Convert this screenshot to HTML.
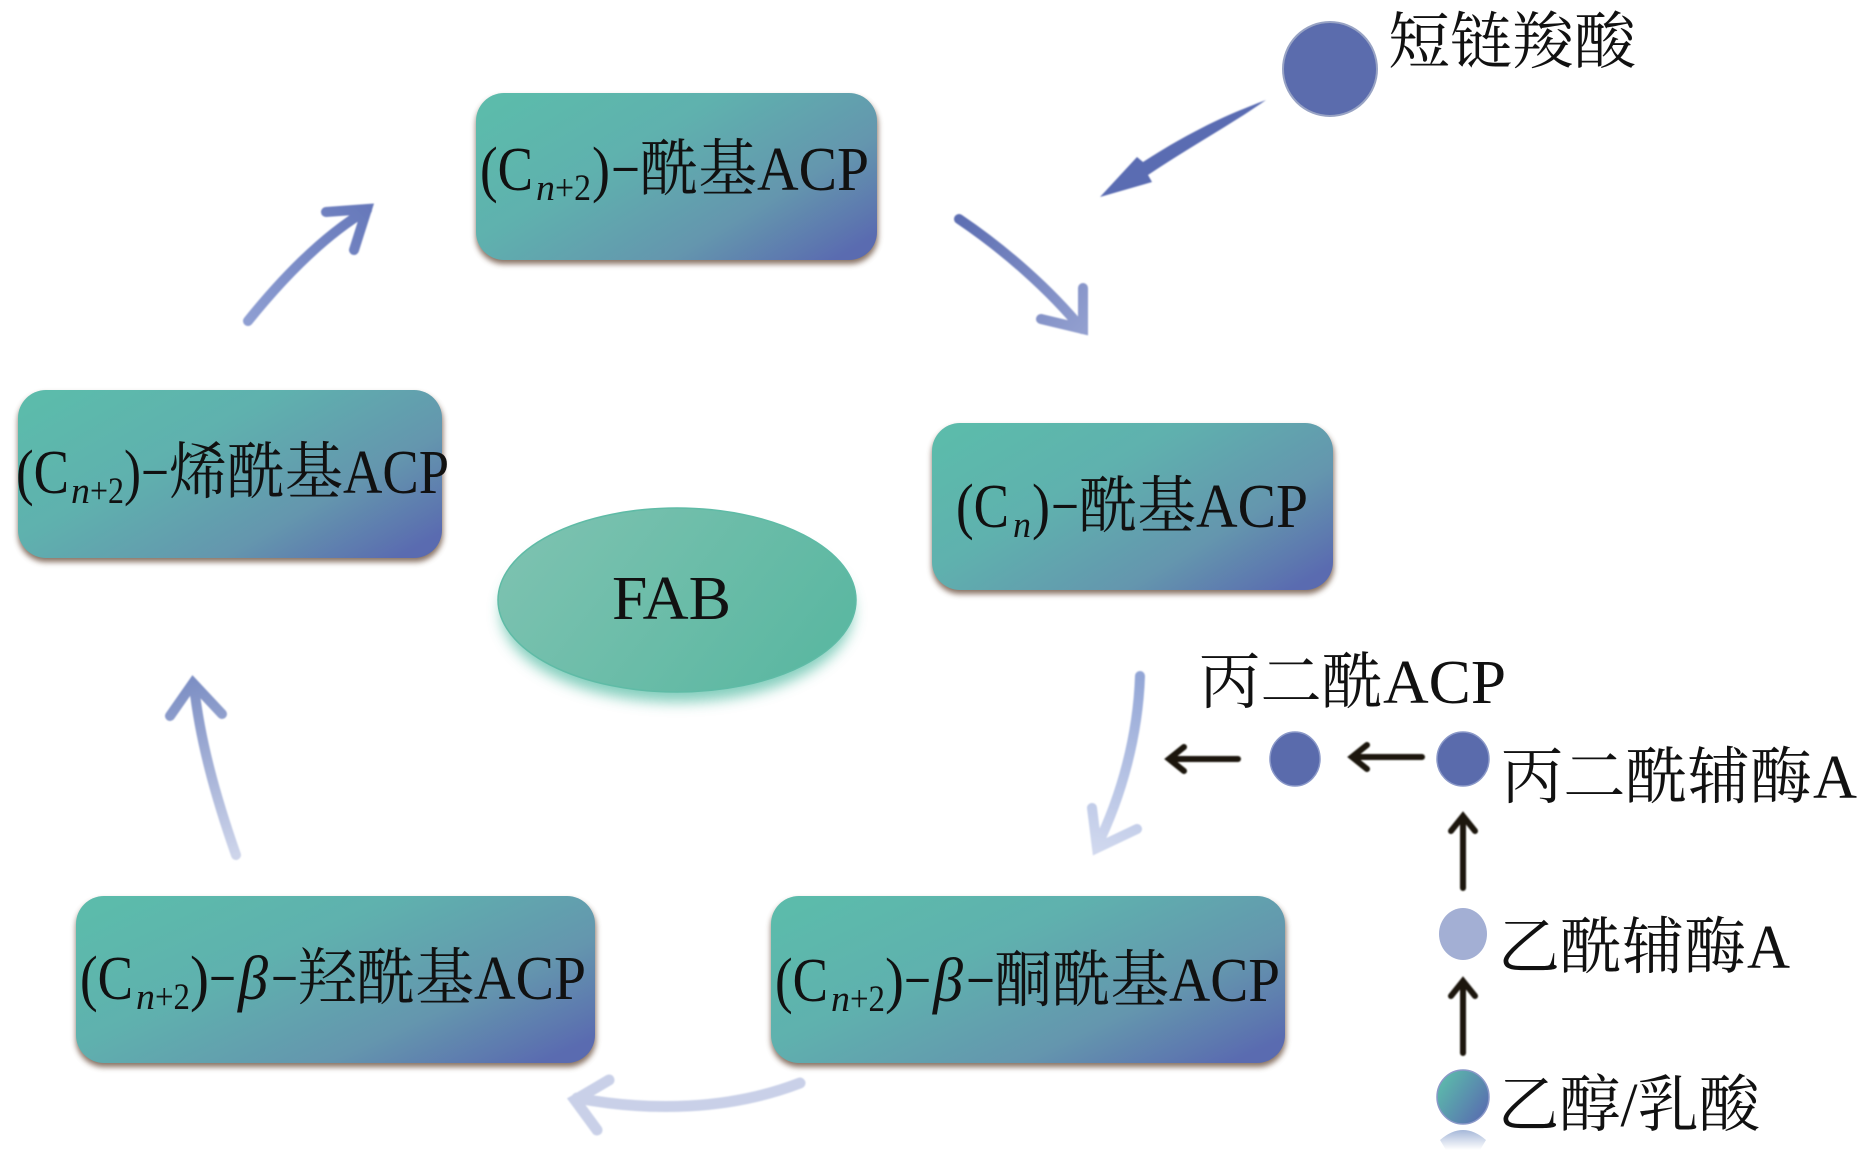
<!DOCTYPE html>
<html><head><meta charset="utf-8">
<style>
html,body{margin:0;padding:0;background:#fff;width:1866px;height:1161px;overflow:hidden}
svg{display:block}
text{font-family:"Liberation Serif","Noto Serif CJK SC",serif;fill:#111;font-size:62px}
.s{font-size:37px}
.i{font-style:italic}
.l{font-size:62px}
</style></head><body>
<svg width="1866" height="1161" viewBox="0 0 1866 1161" xmlns="http://www.w3.org/2000/svg">
<defs>
<linearGradient id="b" x1="0" y1="0.15" x2="1" y2="0.85">
<stop offset="0" stop-color="#5cbbab"/><stop offset="0.35" stop-color="#5fb1ae"/><stop offset="0.72" stop-color="#6496ae"/><stop offset="0.92" stop-color="#5d78af"/><stop offset="1" stop-color="#5a6bb0"/>
</linearGradient>
<linearGradient id="e" x1="0" y1="0.3" x2="1" y2="0.7"><stop offset="0" stop-color="#7cc2b0"/><stop offset="1" stop-color="#5ab7a1"/></linearGradient>
<linearGradient id="c" x1="0" y1="0.2" x2="1" y2="0.9"><stop offset="0" stop-color="#5cbcab"/><stop offset="1" stop-color="#5868b0"/></linearGradient>
<linearGradient id="fade" x1="0" y1="0" x2="0" y2="1"><stop offset="0" stop-color="#8fa6cf"/><stop offset="1" stop-color="#fff"/></linearGradient>
<linearGradient id="g1" gradientUnits="userSpaceOnUse" x1="248" y1="321" x2="369" y2="208"><stop offset="0" stop-color="#8e9ed2"/><stop offset="1" stop-color="#6678ba"/></linearGradient>
<linearGradient id="g2" gradientUnits="userSpaceOnUse" x1="959" y1="219" x2="1083" y2="331"><stop offset="0" stop-color="#5d6eb2"/><stop offset="1" stop-color="#929fcf"/></linearGradient>
<linearGradient id="g3" gradientUnits="userSpaceOnUse" x1="1140" y1="676" x2="1095" y2="850"><stop offset="0" stop-color="#93a6d6"/><stop offset="1" stop-color="#d0d8ee"/></linearGradient>
<linearGradient id="g5" gradientUnits="userSpaceOnUse" x1="236" y1="855" x2="193" y2="681"><stop offset="0" stop-color="#cdd4ea"/><stop offset="1" stop-color="#7d8fc4"/></linearGradient>
<filter id="sh" x="-5%" y="-10%" width="110%" height="125%"><feGaussianBlur stdDeviation="3"/></filter>
<filter id="gl" x="-10%" y="-10%" width="120%" height="130%"><feGaussianBlur stdDeviation="7"/></filter>
<filter id="soft" x="-10%" y="-10%" width="120%" height="120%"><feGaussianBlur stdDeviation="0.8"/></filter>
</defs>

<!-- boxes -->
<g fill="#6b4f3c" filter="url(#sh)" opacity="0.8">
<rect x="476" y="97" width="402" height="167" rx="28"/>
<rect x="932" y="427" width="402" height="167" rx="28"/>
<rect x="18" y="394" width="425" height="168" rx="28"/>
<rect x="76" y="900" width="520" height="167" rx="28"/>
<rect x="771" y="900" width="515" height="167" rx="28"/>
</g>
<g fill="url(#b)">
<rect x="476" y="93" width="401" height="167" rx="28"/>
<rect x="932" y="423" width="401" height="167" rx="28"/>
<rect x="18" y="390" width="424" height="168" rx="28"/>
<rect x="76" y="896" width="519" height="167" rx="28"/>
<rect x="771" y="896" width="514" height="167" rx="28"/>
</g>

<!-- ellipse -->
<ellipse cx="677" cy="612" rx="176" ry="90" fill="#6cc5b0" opacity="0.85" filter="url(#gl)"/>
<ellipse cx="677" cy="600" rx="179" ry="92" fill="url(#e)" stroke="#5fbba6" stroke-width="1.5"/>
<text x="612" y="619" textLength="119" lengthAdjust="spacingAndGlyphs">FAB</text>

<!-- box 1 -->
<g>
<text x="480" y="190" textLength="53" lengthAdjust="spacingAndGlyphs">(C</text>
<text x="536" y="200" class="s i" textLength="19" lengthAdjust="spacingAndGlyphs">n</text>
<text x="555" y="200" class="s" textLength="36" lengthAdjust="spacingAndGlyphs">+2</text>
<text x="592" y="190" textLength="18" lengthAdjust="spacingAndGlyphs">)</text>
<text x="611" y="190" textLength="29" lengthAdjust="spacingAndGlyphs">−</text>
<text x="640" y="190" textLength="117" lengthAdjust="spacingAndGlyphs">酰基</text>
<text x="757" y="190" textLength="112" lengthAdjust="spacingAndGlyphs">ACP</text>
</g>
<!-- box 2 -->
<g>
<text x="956" y="527" textLength="53" lengthAdjust="spacingAndGlyphs">(C</text>
<text x="1013" y="537" class="s i" textLength="18" lengthAdjust="spacingAndGlyphs">n</text>
<text x="1032" y="527" textLength="18" lengthAdjust="spacingAndGlyphs">)</text>
<text x="1051" y="527" textLength="28" lengthAdjust="spacingAndGlyphs">−</text>
<text x="1079" y="527" textLength="117" lengthAdjust="spacingAndGlyphs">酰基</text>
<text x="1196" y="527" textLength="112" lengthAdjust="spacingAndGlyphs">ACP</text>
</g>
<!-- box 3 -->
<g>
<text x="16" y="493" textLength="53" lengthAdjust="spacingAndGlyphs">(C</text>
<text x="71" y="503" class="s i" textLength="19" lengthAdjust="spacingAndGlyphs">n</text>
<text x="90" y="503" class="s" textLength="34" lengthAdjust="spacingAndGlyphs">+2</text>
<text x="124" y="493" textLength="17" lengthAdjust="spacingAndGlyphs">)</text>
<text x="141" y="493" textLength="28" lengthAdjust="spacingAndGlyphs">−</text>
<text x="169" y="493" textLength="174" lengthAdjust="spacingAndGlyphs">烯酰基</text>
<text x="343" y="493" textLength="106" lengthAdjust="spacingAndGlyphs">ACP</text>
</g>
<!-- box 4 -->
<g>
<text x="80" y="999" textLength="53" lengthAdjust="spacingAndGlyphs">(C</text>
<text x="136" y="1009" class="s i" textLength="19" lengthAdjust="spacingAndGlyphs">n</text>
<text x="155" y="1009" class="s" textLength="35" lengthAdjust="spacingAndGlyphs">+2</text>
<text x="190" y="999" textLength="19" lengthAdjust="spacingAndGlyphs">)</text>
<text x="209" y="999" textLength="27" lengthAdjust="spacingAndGlyphs">−</text>
<text x="238" y="999" class="i" textLength="30" lengthAdjust="spacingAndGlyphs">β</text>
<text x="271" y="999" textLength="27" lengthAdjust="spacingAndGlyphs">−</text>
<text x="298" y="999" textLength="176" lengthAdjust="spacingAndGlyphs">羟酰基</text>
<text x="474" y="999" textLength="112" lengthAdjust="spacingAndGlyphs">ACP</text>
</g>
<!-- box 5 -->
<g>
<text x="775" y="1001" textLength="53" lengthAdjust="spacingAndGlyphs">(C</text>
<text x="831" y="1011" class="s i" textLength="19" lengthAdjust="spacingAndGlyphs">n</text>
<text x="850" y="1011" class="s" textLength="35" lengthAdjust="spacingAndGlyphs">+2</text>
<text x="885" y="1001" textLength="19" lengthAdjust="spacingAndGlyphs">)</text>
<text x="904" y="1001" textLength="27" lengthAdjust="spacingAndGlyphs">−</text>
<text x="933" y="1001" class="i" textLength="30" lengthAdjust="spacingAndGlyphs">β</text>
<text x="966" y="1001" textLength="29" lengthAdjust="spacingAndGlyphs">−</text>
<text x="994" y="1001" textLength="175" lengthAdjust="spacingAndGlyphs">酮酰基</text>
<text x="1169" y="1001" textLength="111" lengthAdjust="spacingAndGlyphs">ACP</text>
</g>

<!-- cycle arrows -->
<g fill="none" stroke-width="10" stroke-linecap="round" stroke-linejoin="miter" filter="url(#soft)">
<path d="M248,321 C285,275 325,235 367,210 M326,212 L367,209 L354,250" stroke="url(#g1)"/>
<path d="M959,219 C1005,250 1050,290 1082,329 M1083,288 L1083,329 L1041,319" stroke="url(#g2)"/>
<path d="M1140,676 C1138,735 1122,795 1097,846 M1137,829 L1097,848 L1092,808" stroke="url(#g3)"/>
<path d="M800,1083 C730,1110 650,1112 577,1098 M609,1080 L575,1100 L597,1130" stroke="#c9d0e8" stroke-width="11"/>
<path d="M236,855 C215,795 200,740 194,686 M170,716 L193,683 L222,714" stroke="url(#g5)"/>
</g>

<!-- filled arrow -->
<path d="M1266,100 C1240,110 1200,125 1143,162 L1137,157 L1100,197 L1152,182 L1148,175 C1190,147 1235,122 1266,100 Z" fill="#5a6cb2" filter="url(#soft)"/>

<!-- big circle -->
<circle cx="1330" cy="69" r="47" fill="#5b6cad" stroke="#98a3c4" stroke-width="2"/>

<!-- small circles -->
<ellipse cx="1295" cy="759" rx="25" ry="27" fill="#5a6bac" stroke="#8a98c8" stroke-width="1.5"/>
<ellipse cx="1463" cy="759" rx="26" ry="27" fill="#5a6bac" stroke="#8a98c8" stroke-width="1.5"/>
<ellipse cx="1463" cy="934" rx="24" ry="26" fill="#a3afd4"/>
<ellipse cx="1463" cy="1097" rx="26" ry="27" fill="url(#c)" stroke="#8a98c8" stroke-width="1.5"/>
<path d="M1440,1140 Q1463,1120 1486,1140 L1480,1150 L1446,1150 Z" fill="url(#fade)" opacity="0.8"/>

<!-- black arrows -->
<g fill="none" stroke="#1a1410" stroke-width="6" stroke-linecap="round" stroke-linejoin="miter" filter="url(#soft)">
<path d="M1238,759 L1170,759 M1184,747 L1169,759 L1184,771"/>
<path d="M1422,757 L1353,757 M1367,745 L1352,757 L1367,769"/>
<path d="M1463,888 L1463,817 M1451,831 L1463,816 L1475,831"/>
<path d="M1463,1053 L1463,982 M1451,996 L1463,981 L1475,996"/>
</g>

<!-- labels -->
<text class="l" x="1388" y="63" textLength="248" lengthAdjust="spacingAndGlyphs">短链羧酸</text>
<text class="l" x="1199" y="703" textLength="184" lengthAdjust="spacingAndGlyphs">丙二酰</text>
<text class="l" x="1383" y="703" textLength="123" lengthAdjust="spacingAndGlyphs">ACP</text>
<text class="l" x="1501" y="798" textLength="311" lengthAdjust="spacingAndGlyphs">丙二酰辅酶</text>
<text class="l" x="1813" y="798" textLength="44" lengthAdjust="spacingAndGlyphs">A</text>
<text class="l" x="1498" y="968" textLength="248" lengthAdjust="spacingAndGlyphs">乙酰辅酶</text>
<text class="l" x="1747" y="968" textLength="43" lengthAdjust="spacingAndGlyphs">A</text>
<text class="l" x="1498" y="1126" textLength="262" lengthAdjust="spacingAndGlyphs">乙醇/乳酸</text>
</svg>
</body></html>
